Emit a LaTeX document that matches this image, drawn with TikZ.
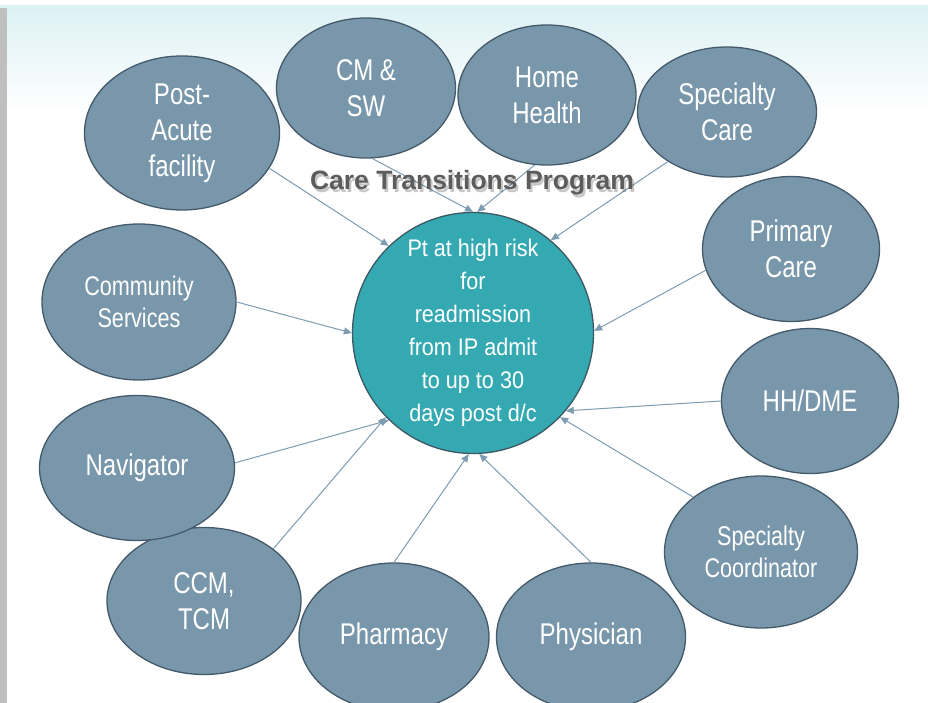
\documentclass[tikz,border=0pt]{standalone}
\usepackage{fontspec}
\setmainfont{Liberation Sans}[FakeStretch=0.9]
\newfontfamily\narrowfont{Liberation Sans}[FakeStretch=0.8]
\newfontfamily\headfont{Liberation Sans}
\usetikzlibrary{shapes,arrows.meta,positioning}
\definecolor{slate}{RGB}{121,151,171}
\definecolor{slateline}{RGB}{68,90,106}
\definecolor{hubteal}{RGB}{52,169,178}
\definecolor{hubline}{RGB}{60,88,100}
\definecolor{linkblue}{RGB}{125,156,177}
\definecolor{headgray}{RGB}{92,92,92}
\definecolor{skytop}{RGB}{220,241,244}

\begin{document}
\begin{tikzpicture}[x=1pt,y=-1pt,
    party/.style={ellipse,draw=slateline,line width=1.3pt,fill=slate,text=white,
      align=center,inner sep=0pt,font={\narrowfont\fontsize{30}{36}\selectfont}},
    smaller/.style={font={\narrowfont\fontsize{27}{32}\selectfont}},
    link/.style={draw=linkblue,line width=1pt,-{Triangle[length=8pt,width=7pt]}},
    head/.style={font={\headfont\bfseries\fontsize{26.5}{30}\selectfont}}]
  \useasboundingbox (0,0) rectangle (928,703);
  \clip (0,0) rectangle (928,703);
  \fill[white] (0,0) rectangle (928,703);
  \shade[top color=skytop,bottom color=white] (0,6) rectangle (928,112);
  \fill[gray!50] (0,8) rectangle (7,703);

  \node[circle,draw=hubline,line width=1.3pt,fill=hubteal,minimum size=241pt,inner sep=0pt] (pt) at (473,333) {};
  \node[text=white,align=center,font={\fontsize{24}{33}\selectfont}] (risk) at (pt) {Pt at high risk\\for\\readmission\\from IP admit\\to up to 30\\days post d/c};

  \node[party,minimum width=195pt,minimum height=154pt] (postacute) at (182,133) {Post-\\Acute\\facility};
  \node[party,minimum width=179pt,minimum height=140pt] (cmsw) at (366,88) {CM \&\\SW};
  \node[party,minimum width=178pt,minimum height=140pt] (homehealth) at (547,95) {Home\\Health};
  \node[party,minimum width=179pt,minimum height=130pt] (speccare) at (727,112) {Specialty\\Care};
  \node[party,minimum width=177pt,minimum height=145pt] (primary) at (791,249) {Primary\\Care};
  \node[party,minimum width=177pt,minimum height=145pt] (hhdme) at (810,401) {HH/DME};
  \node[party,smaller,minimum width=193pt,minimum height=152pt] (speccoord) at (761,552) {Specialty\\Coordinator};
  \node[party,minimum width=189pt,minimum height=148pt] (physician) at (591,637) {Physician};
  \node[party,minimum width=190pt,minimum height=148pt] (pharmacy) at (394,637) {Pharmacy};
  \node[party,minimum width=194pt,minimum height=147pt] (ccmtcm) at (204,601) {CCM,\\TCM};
  \node[party,minimum width=195pt,minimum height=145pt] (navigator) at (137,468) {Navigator};
  \node[party,smaller,minimum width=194pt,minimum height=156pt] (community) at (139,302) {Community\\Services};

  \draw[link] (postacute.-22) -- (pt.134);
  \draw[link] (cmsw.-85) -- (pt.90);
  \draw[link] (homehealth.-100) -- (pt.88);
  \draw[link] (speccare.-140) -- (pt.50);
  \draw[link] (primary.-166) -- (pt.1);
  \draw[link] (hhdme.180) -- (pt.-40);
  \draw[link] (speccoord.141) -- (pt.-44);
  \draw[link] (physician.90) -- (pt.-87);
  \draw[link] (pharmacy.90) -- (pt.-92);
  \draw[link] (ccmtcm.37) -- (pt.-136);
  \draw[link] (navigator.3) -- (pt.-134);
  \draw[link] (community.0) -- (pt.180);

  \node[head,text=black,opacity=0.22,xshift=2pt,yshift=-3pt] (glow) at (472,183) {Care Transitions Program};
  \node[head,text=headgray] (title) at (472,183) {Care Transitions Program};
\end{tikzpicture}
\end{document}
